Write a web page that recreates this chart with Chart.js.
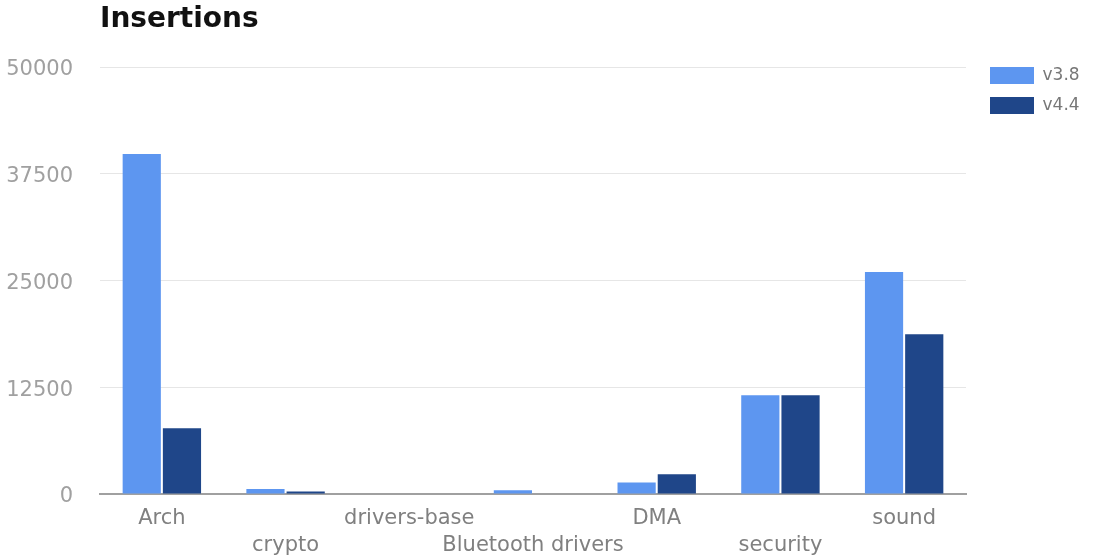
<!DOCTYPE html>
<html><head><meta charset="utf-8">
<script src="https://cdn.jsdelivr.net/npm/chart.js@4/dist/chart.umd.min.js"></script>
<style>html,body{margin:0;padding:0;background:#fff}#wrap{width:1095px;height:558px}</style>
</head><body><div id="wrap"><canvas id="c" width="1095" height="558"></canvas></div>
<script>
const titleText = 'Insertions';
const categories = ['Arch', 'crypto', 'drivers-base', 'Bluetooth drivers', 'DMA', 'security', 'sound'];
const seriesNames = ['v3.8', 'v4.4'];
const v38 = [39800, 600, 0, 430, 1350, 11550, 26000];
const v44 = [7700, 300, 0, 0, 2300, 11550, 18700];
const yTicks = [0, 12500, 25000, 37500, 50000];

// staggered category labels: every other label on a second line
const xLabels = categories.map((c, i) => (i % 2 ? ['', c] : [c]));

const legendShift = {
  id: 'legendShift',
  afterLayout(chart) {
    const lg = chart.legend;
    if (!lg) return;
    const ca = chart.chartArea;
    const pad = lg.options.labels.padding;
    const dx = ca.right + 24 - (lg.left + pad);
    const dy = ca.top - (lg.top + pad);
    lg.left += dx; lg.top += dy; lg.bottom += dy;
    lg.right = chart.width;
  }
};

new Chart(document.getElementById('c'), {
  type: 'bar',
  data: {
    labels: xLabels,
    datasets: [
      { label: seriesNames[0], data: v38, backgroundColor: '#5d96f0', borderWidth: 0,
        categoryPercentage: 0.65, barPercentage: 0.95 },
      { label: seriesNames[1], data: v44, backgroundColor: '#1f4689', borderWidth: 0,
        categoryPercentage: 0.65, barPercentage: 0.95 }
    ]
  },
  options: {
    responsive: false,
    animation: false,
    devicePixelRatio: 1,
    layout: { padding: { left: 6, right: 24, top: 0, bottom: 1 } },
    plugins: {
      title: {
        display: true, text: titleText, align: 'start', fullSize: false,
        color: '#111', font: { family: 'DejaVu Sans', size: 28, weight: 'bold', lineHeight: 1.2 },
        padding: { top: 3, bottom: 30.4 }
      },
      legend: {
        position: 'right', align: 'start', fullSize: false, maxWidth: 105,
        labels: {
          boxWidth: 44, boxHeight: 17, padding: 13, color: '#777',
          font: { family: 'DejaVu Sans', size: 17 }
        }
      },
      tooltip: { enabled: false }
    },
    scales: {
      x: {
        afterFit: s => { s.height = 63; },
        grid: { display: false, drawTicks: false, tickLength: 0 },
        border: { display: true, color: '#a0a0a0', width: 2 },
        ticks: {
          autoSkip: false, maxRotation: 0, minRotation: 0, padding: 11, color: '#808080',
          font: { family: 'DejaVu Sans', size: 21, lineHeight: 27 / 21 }
        }
      },
      y: {
        min: yTicks[0], max: yTicks[yTicks.length - 1],
        afterBuildTicks: s => { s.ticks = yTicks.map(v => ({ value: v })); },
        afterFit: s => { s.width = 94; },
        grid: { color: '#e6e6e6', lineWidth: 1, drawTicks: false, tickLength: 0 },
        border: { display: false },
        ticks: {
          padding: 27, labelOffset: 3, color: '#a0a0a0',
          font: { family: 'DejaVu Sans', size: 21 },
          callback: v => String(v)
        }
      }
    }
  },
  plugins: [legendShift]
});
</script>
</body></html>
